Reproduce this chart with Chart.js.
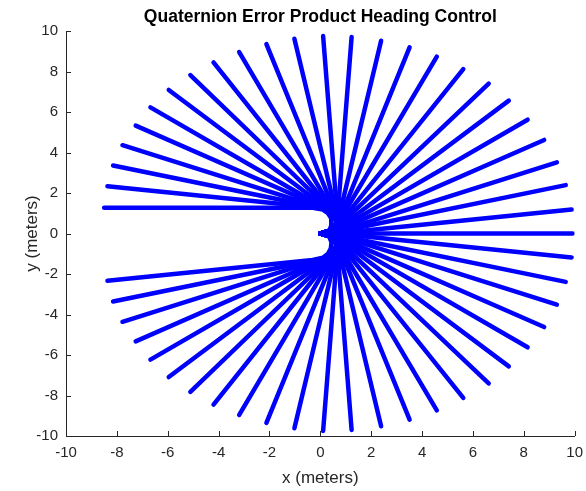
<!DOCTYPE html>
<html>
<head>
<meta charset="utf-8">
<script src="https://cdn.jsdelivr.net/npm/chart.js@4.4.1/dist/chart.umd.min.js"></script>
<style>
    html, body { margin: 0; padding: 0; background: #fff; overflow: hidden; }
    #wrap { width: 586px; height: 491px; overflow: hidden; }
</style>
</head>
<body>
<div id="wrap"><canvas id="chart" width="591" height="491"></canvas></div>
<script>
// Commanded headings (deg), one trajectory each
const headingsDeg = [
    -172.8, -165.6, -158.4, -151.2, -144, -136.8, -129.6, -122.4, -115.2, -108,
    -100.8, -93.6, -86.4, -79.2, -72, -64.8, -57.6, -50.4, -43.2, -36,
    -28.8, -21.6, -14.4, -7.2, 0, 7.2, 14.4, 21.6, 28.8, 36,
    43.2, 50.4, 57.6, 64.8, 72, 79.2, 86.4, 93.6, 100.8, 108,
    115.2, 122.4, 129.6, 136.8, 144, 151.2, 158.4, 165.6, 172.8, 180
];

// Every run starts at the origin
const startX = 0;
const startY = 0;

// Final positions (meters)
const endX = [
    -8.37, -8.15, -7.78, -7.26, -6.68, -5.96, -5.11, -4.20, -3.19, -2.12,
    -1.02, 0.11, 1.23, 2.39, 3.51, 4.58, 5.62, 6.62, 7.41, 8.15,
    8.80, 9.30, 9.65, 9.88, 9.92, 9.88, 9.65, 9.30, 8.80, 8.15,
    7.41, 6.62, 5.62, 4.58, 3.51, 2.39, 1.23, 0.11, -1.02, -2.12,
    -3.19, -4.20, -5.11, -5.96, -6.68, -7.26, -7.78, -8.15, -8.37, -8.50
];
const endY = [
    -2.33, -3.36, -4.36, -5.33, -6.23, -7.09, -7.82, -8.45, -8.96, -9.35,
    -9.62, -9.75, -9.70, -9.52, -9.19, -8.73, -8.12, -7.40, -6.56, -5.62,
    -4.62, -3.51, -2.39, -1.18, 0, 1.18, 2.39, 3.51, 4.62, 5.62,
    6.56, 7.40, 8.12, 8.73, 9.19, 9.52, 9.70, 9.75, 9.62, 9.35,
    8.96, 8.45, 7.82, 7.09, 6.23, 5.33, 4.36, 3.36, 2.33, 1.27
];

// Turning part of each run, between start and the straight leg
const bendX = [
    [0.2, 0.36, 0.44, 0.41, 0.3, 0.1, -0.3],
    [0.48, 0.64, 0.58, 0.17],
    [0.48, 0.64, 0.58, 0.19],
    [0.48, 0.64, 0.58, 0.33],
    [0.48, 0.64, 0.58, 0.38],
    [0.48, 0.64, 0.6, 0.47],
    [0.48, 0.64, 0.53],
    [0.48, 0.64, 0.56],
    [0.48, 0.64, 0.6],
    [0.48, 0.64, 0.66],
    [0.48, 0.68],
    [0.48, 0.68],
    [0.47, 0.66],
    [0.47, 0.68],
    [0.45, 0.69],
    [0.45, 0.68],
    [0.42, 0.68],
    [0.42, 0.66],
    [0.42, 0.72],
    [0.42, 0.75],
    [0.4, 0.75],
    [0.4, 0.75],
    [0.35, 0.7],
    [0.6],
    [],
    [0.6],
    [0.35, 0.7],
    [0.4, 0.75],
    [0.4, 0.75],
    [0.42, 0.75],
    [0.42, 0.72],
    [0.42, 0.66],
    [0.42, 0.68],
    [0.45, 0.68],
    [0.45, 0.69],
    [0.47, 0.68],
    [0.47, 0.66],
    [0.48, 0.68],
    [0.48, 0.68],
    [0.48, 0.64, 0.66],
    [0.48, 0.64, 0.6],
    [0.48, 0.64, 0.56],
    [0.48, 0.64, 0.53],
    [0.48, 0.64, 0.6, 0.47],
    [0.48, 0.64, 0.58, 0.38],
    [0.48, 0.64, 0.58, 0.33],
    [0.48, 0.64, 0.58, 0.19],
    [0.48, 0.64, 0.58, 0.17],
    [0.48, 0.64, 0.58, 0.14],
    [0.2, 0.36, 0.45, 0.43, 0.3, 0.1, -0.3]
];
const bendY = [
    [-0.04, -0.17, -0.45, -0.75, -1.0, -1.2, -1.31],
    [-0.18, -0.5, -0.85, -1.22],
    [-0.18, -0.5, -0.85, -1.2],
    [-0.18, -0.5, -0.85, -1.15],
    [-0.18, -0.5, -0.85, -1.1],
    [-0.18, -0.5, -0.8, -1.05],
    [-0.18, -0.5, -1.0],
    [-0.18, -0.5, -0.95],
    [-0.18, -0.5, -0.9],
    [-0.18, -0.5, -0.8],
    [-0.19, -0.7],
    [-0.18, -0.65],
    [-0.17, -0.6],
    [-0.15, -0.55],
    [-0.12, -0.5],
    [-0.1, -0.47],
    [-0.08, -0.38],
    [-0.07, -0.3],
    [-0.06, -0.27],
    [-0.05, -0.24],
    [-0.03, -0.19],
    [-0.02, -0.12],
    [-0.01, -0.09],
    [0.0],
    [],
    [0.0],
    [0.01, 0.09],
    [0.02, 0.12],
    [0.03, 0.19],
    [0.05, 0.24],
    [0.06, 0.27],
    [0.07, 0.3],
    [0.08, 0.38],
    [0.1, 0.47],
    [0.12, 0.5],
    [0.15, 0.55],
    [0.17, 0.6],
    [0.18, 0.65],
    [0.19, 0.7],
    [0.18, 0.5, 0.8],
    [0.18, 0.5, 0.9],
    [0.18, 0.5, 0.95],
    [0.18, 0.5, 1.0],
    [0.18, 0.5, 0.8, 1.05],
    [0.18, 0.5, 0.85, 1.1],
    [0.18, 0.5, 0.85, 1.15],
    [0.18, 0.5, 0.85, 1.2],
    [0.18, 0.5, 0.85, 1.22],
    [0.18, 0.5, 0.85, 1.25],
    [0.04, 0.17, 0.45, 0.75, 1.0, 1.18, 1.27]
];

const axisMin = -10;
const axisMax = 10;
const tickStep = 2;

const FONT = "'Liberation Sans', Arial, Helvetica, sans-serif";
const AXIS_COLOR = '#262626';

// MATLAB style ticks pointing into the plot
const inwardTicks = {
    id: 'inwardTicks',
    afterDraw(chart) {
        const { ctx, chartArea, scales } = chart;
        ctx.save();
        ctx.strokeStyle = AXIS_COLOR;
        ctx.lineWidth = 1;
        ctx.beginPath();
        scales.x.ticks.forEach(t => {
            const px = Math.round(scales.x.getPixelForValue(t.value)) + 0.5;
            ctx.moveTo(px, chartArea.bottom);
            ctx.lineTo(px, chartArea.bottom - 5);
        });
        scales.y.ticks.forEach(t => {
            const py = Math.round(scales.y.getPixelForValue(t.value)) + 0.5;
            ctx.moveTo(chartArea.left, py);
            ctx.lineTo(chartArea.left + 5, py);
        });
        ctx.stroke();
        ctx.restore();
    }
};

const datasets = headingsDeg.map((h, i) => {
    const pts = [{ x: startX, y: startY }];
    bendX[i].forEach((bx, j) => pts.push({ x: bx, y: bendY[i][j] }));
    pts.push({ x: endX[i], y: endY[i] });
    return {
        label: h + '°',
        data: pts,
        showLine: true,
        borderColor: '#0000ff',
        borderWidth: 4.5,
        borderCapStyle: 'round',
        borderJoinStyle: 'round',
        pointRadius: 0,
        tension: 0
    };
});

new Chart(document.getElementById('chart').getContext('2d'), {
    type: 'scatter',
    data: { datasets },
    options: {
        responsive: false,
        animation: false,
        devicePixelRatio: 1,
        layout: { padding: 0 },
        plugins: {
            legend: { display: false },
            tooltip: { enabled: false },
            title: {
                display: true,
                fullSize: false,
                text: 'Quaternion Error Product Heading Control',
                color: '#000',
                font: { family: FONT, size: 17.5, weight: 'bold', lineHeight: 1.2 },
                padding: { top: 7, bottom: 3 }
            }
        },
        scales: {
            x: {
                type: 'linear',
                min: axisMin,
                max: axisMax,
                afterFit: s => { s.height = 55; },
                grid: { display: true, drawOnChartArea: false, drawTicks: false },
                border: { display: true, color: AXIS_COLOR, width: 1 },
                ticks: {
                    stepSize: tickStep,
                    color: AXIS_COLOR,
                    padding: 8,
                    font: { family: FONT, size: 15 }
                },
                title: {
                    display: true,
                    text: 'x (meters)',
                    color: AXIS_COLOR,
                    font: { family: FONT, size: 17, lineHeight: 1.2 },
                    padding: { top: 0, bottom: 2 }
                }
            },
            y: {
                type: 'linear',
                min: axisMin,
                max: axisMax,
                afterFit: s => { s.width = 66; },
                grid: { display: true, drawOnChartArea: false, drawTicks: false },
                border: { display: true, color: AXIS_COLOR, width: 1 },
                ticks: {
                    stepSize: tickStep,
                    color: AXIS_COLOR,
                    padding: 8,
                    font: { family: FONT, size: 15 }
                },
                title: {
                    display: true,
                    text: 'y (meters)',
                    color: AXIS_COLOR,
                    font: { family: FONT, size: 17, lineHeight: 1.2 },
                    padding: { top: 22, bottom: 0 }
                }
            }
        }
    },
    plugins: [inwardTicks]
});
</script>
</body>
</html>
